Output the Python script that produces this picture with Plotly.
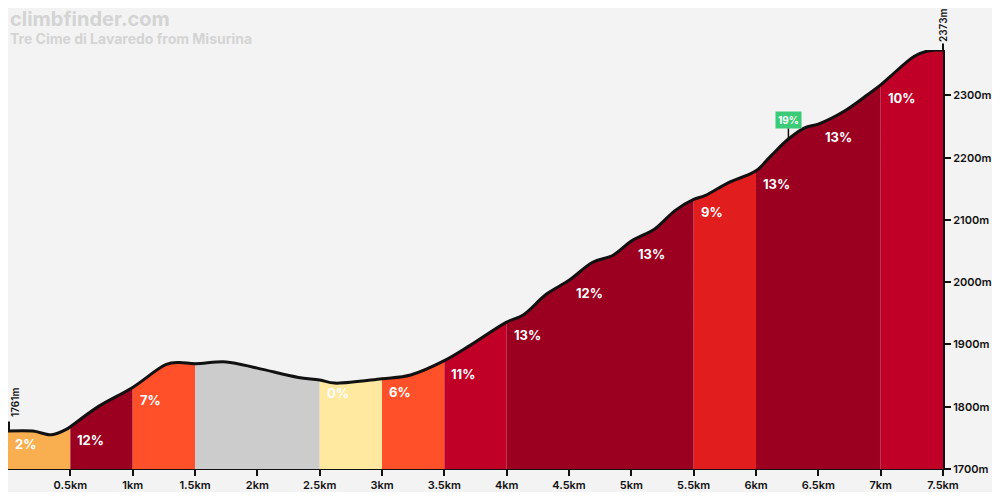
import plotly.graph_objects as go

########################## DATA #######################################

title_text = "climbfinder.com"
subtitle_text = "Tre Cime di Lavaredo from Misurina"

# elevation profile (km, m)
distance_km = [0, 0.2, 0.35, 0.47, 0.5, 0.73, 1.0, 1.27, 1.37, 1.5, 1.75, 2.0,
               2.33, 2.5, 2.62, 3.0, 3.23, 3.5, 3.71, 4.0, 4.13, 4.32, 4.5,
               4.69, 4.85, 5.0, 5.19, 5.35, 5.5, 5.59, 5.78, 6.0, 6.12, 6.26,
               6.39, 6.5, 6.71, 6.9, 7.0, 7.08, 7.27, 7.37, 7.5]
elevation_m = [1761, 1761, 1755, 1764, 1768, 1801, 1831, 1868, 1871, 1869, 1872, 1862,
               1847, 1843, 1838, 1845, 1851, 1874, 1899, 1936, 1947, 1981, 2003,
               2032, 2043, 2066, 2086, 2115, 2133, 2139, 2160, 2179, 2203, 2230,
               2248, 2254, 2275, 2302, 2317, 2331, 2363, 2371, 2373]

# half-km segments
segment_start = [0, 0.5, 1.0, 1.5, 2.0, 2.5, 3.0, 3.5, 4.0, 4.5, 5.0, 5.5, 6.0, 6.5, 7.0]
segment_end = [0.5, 1.0, 1.5, 2.0, 2.5, 3.0, 3.5, 4.0, 4.5, 5.0, 5.5, 6.0, 6.5, 7.0, 7.5]
segment_label = ["2%", "12%", "7%", "", "", "0%", "6%", "11%", "13%", "12%",
                 "13%", "9%", "13%", "13%", "10%"]
segment_color = ["#f9ae4f", "#9b0021", "#ff5029", "#cccccc", "#cccccc", "#ffe9a0",
                 "#ff5029", "#c00027", "#9b0021", "#9b0021", "#9b0021", "#e21d1d",
                 "#9b0021", "#9b0021", "#c00027"]

steepest_km = 6.26
steepest_label = "19%"

x_tickvals = [0.5, 1, 1.5, 2, 2.5, 3, 3.5, 4, 4.5, 5, 5.5, 6, 6.5, 7, 7.5]
x_ticktext = ["0.5km", "1km", "1.5km", "2km", "2.5km", "3km", "3.5km", "4km",
              "4.5km", "5km", "5.5km", "6km", "6.5km", "7km", "7.5km"]
y_tickvals = [1700, 1800, 1900, 2000, 2100, 2200, 2300]
y_ticktext = ["1700m", "1800m", "1900m", "2000m", "2100m", "2200m", "2300m"]

FONT = "Inter"
BG = "#f3f3f3"

########################## FIGURE #######################################

fig = go.Figure()

# coloured fill, neighbouring segments of the same colour merged (avoids seams)
groups = []
for i in range(len(segment_start)):
    if groups and groups[-1][2] == segment_color[i]:
        groups[-1][1] = segment_end[i]
    else:
        groups.append([segment_start[i], segment_end[i], segment_color[i]])

for g_start, g_end, g_color in groups:
    xs = [d for d in distance_km if g_start <= d <= g_end]
    ys = [elevation_m[distance_km.index(d)] for d in xs]
    fig.add_trace(
        go.Scatter(
            x=xs,
            y=ys,
            mode="lines",
            line=dict(width=0, shape="spline", smoothing=1),
            fill="tozeroy",
            fillcolor=g_color,
            hoverinfo="skip",
            showlegend=False,
        )
    )

# profile line
fig.add_trace(
    go.Scatter(
        x=distance_km,
        y=elevation_m,
        mode="lines",
        line=dict(color="#111111", width=3, shape="spline", smoothing=1),
        showlegend=False,
    )
)

# grade labels
for i in range(len(segment_start)):
    if segment_label[i] == "":
        continue
    fig.add_annotation(
        x=segment_start[i],
        y=elevation_m[distance_km.index(segment_start[i])],
        text=segment_label[i],
        showarrow=False,
        xanchor="left",
        yanchor="middle",
        xshift=5,
        yshift=-13,
        font=dict(family=FONT, size=13, color="white", weight=700),
    )

# steepest point badge
fig.add_annotation(
    x=steepest_km,
    y=elevation_m[distance_km.index(steepest_km)],
    text=steepest_label,
    showarrow=True,
    arrowhead=0,
    arrowwidth=1.5,
    arrowcolor="#111111",
    ax=0,
    ay=-19,
    bgcolor="#3bcb78",
    borderpad=2,
    font=dict(family=FONT, size=10, color="white", weight=700),
)

# start / finish altitude markers
fig.add_annotation(
    x=distance_km[0], y=elevation_m[0], text="",
    showarrow=True, arrowhead=0, arrowwidth=2, arrowcolor="#111111",
    ax=0, ay=-11, xshift=1,
)
fig.add_annotation(
    x=distance_km[0], y=elevation_m[0], text=str(elevation_m[0]) + "m",
    textangle=-90, showarrow=False, xshift=7, yshift=28,
    font=dict(family=FONT, size=10, color="#111111", weight=600),
)
fig.add_annotation(
    x=distance_km[-1], y=elevation_m[-1], text=str(elevation_m[-1]) + "m",
    textangle=-90, showarrow=True, arrowhead=0, arrowwidth=2, arrowcolor="#111111",
    ax=0, ay=-25,
    font=dict(family=FONT, size=10, color="#111111", weight=600),
)

# title block (one text box, two lines)
fig.add_annotation(
    xref="paper", yref="paper", x=0, y=1.055, xanchor="left", yanchor="middle",
    align="left",
    text="<span style='font-size:20px'>" + title_text + "</span><br>" + subtitle_text,
    showarrow=False,
    font=dict(family=FONT, size=14, color="#d4d4d4", weight=700),
)

fig.update_xaxes(
    range=[0, 7.5],
    tickvals=x_tickvals,
    ticktext=x_ticktext,
    ticks="outside",
    ticklen=6,
    tickwidth=2,
    tickcolor="#111111",
    showline=True,
    linecolor="#111111",
    linewidth=1,
    showgrid=False,
    zeroline=False,
    tickfont=dict(family=FONT, size=11, color="#111111", weight=600),
)

fig.update_yaxes(
    range=[1700, 2373],
    side="right",
    tickvals=y_tickvals,
    ticktext=y_ticktext,
    ticks="outside",
    ticklen=6,
    tickwidth=2,
    tickcolor="#111111",
    showline=True,
    linecolor="#111111",
    linewidth=2,
    showgrid=False,
    zeroline=False,
    tickfont=dict(family=FONT, size=11, color="#111111", weight=600),
)

# the page body adds an 8px margin, so the figure is sized to fill the window exactly
fig.update_layout(
    width=984,
    height=484,
    margin=dict(l=0, r=43, t=42, b=21),
    paper_bgcolor=BG,
    plot_bgcolor=BG,
    showlegend=False,
)

fig.write_html("out.html")
